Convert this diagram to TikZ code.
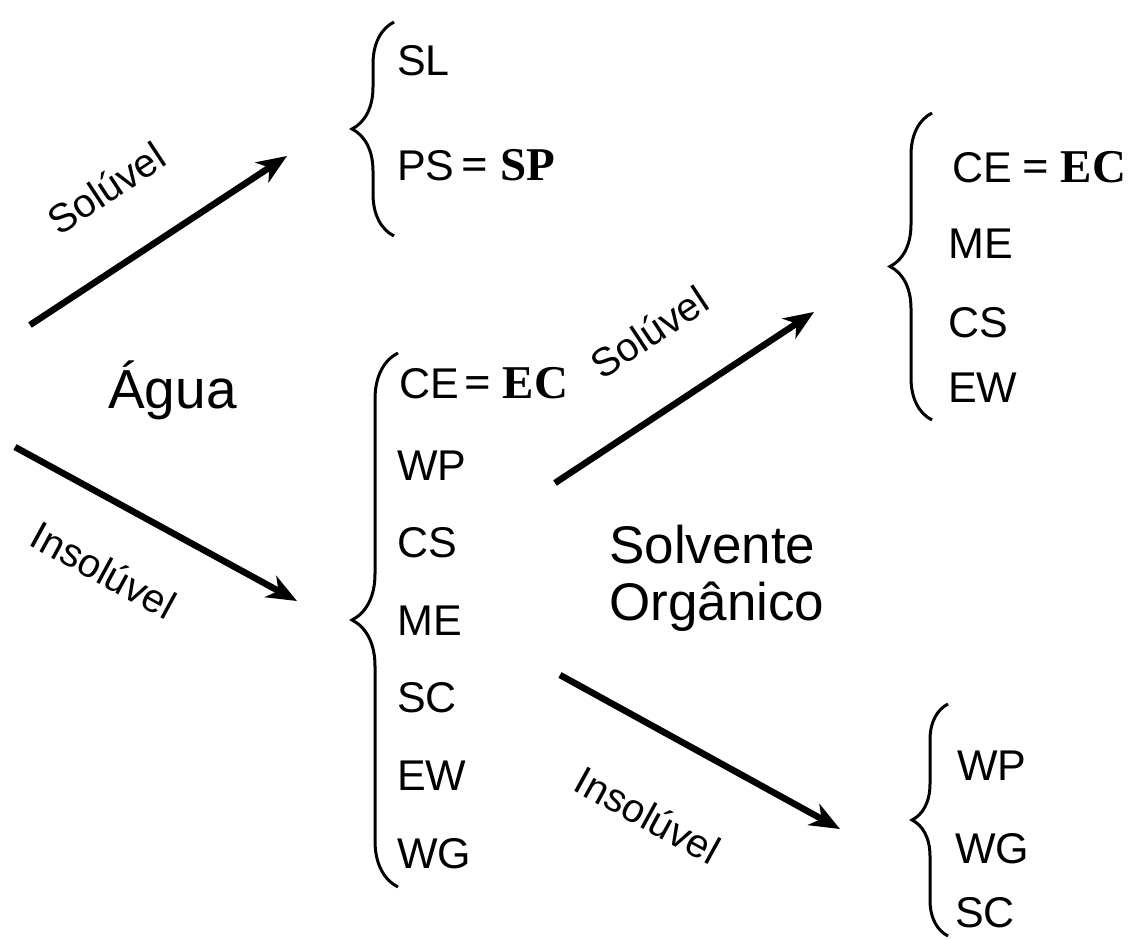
\documentclass[tikz,border=0pt]{standalone}
\usepackage{fontspec}
\setmainfont{Liberation Sans}
\newfontfamily\boldserif{Liberation Serif}
\usetikzlibrary{arrows.meta,decorations.pathreplacing}
\begin{document}
\begin{tikzpicture}[x=1pt,y=-1pt,
  item/.style={anchor=base west,inner sep=0pt,font=\fontsize{43}{43}\selectfont},
  eqtext/.style={anchor=base west,inner sep=0pt,font=\boldserif\bfseries\fontsize{47}{47}\selectfont},
  title/.style={anchor=west,inner sep=0pt,font=\fontsize{53}{53}\selectfont},
  tag/.style={inner sep=0pt,font=\fontsize{40}{40}\selectfont},
  flow/.style={line width=6.5pt,-{Stealth[length=30pt,width=24pt,inset=9pt]}},
  bracket/.style={line width=3pt,decorate,decoration={brace,amplitude=#1}}]
\useasboundingbox (0,0) rectangle (1136,940);

% first split: water
\node[title,font=\fontsize{55}{55}\selectfont] (agua) at (108,390) {Água};
\coordinate (a1s) at (30,325);  \coordinate (a1e) at (287,156);
\coordinate (a2s) at (15,447);  \coordinate (a2e) at (297,601);
\draw[flow] (a1s) -- (a1e);
\draw[flow] (a2s) -- (a2e);
\node[tag,rotate=33.4] (sol1) at (106,188) {Solúvel};
\node[tag,rotate=-28.6] (ins1) at (104,570) {Insolúvel};

% soluble in water
\draw[bracket=42pt] (394,236) -- (394,22);
\node[item] (sl) at (397,75) {SL};
\node[item] (ps) at (397,180) {PS};
\node[eqtext] (eqsp) at ([xshift=7pt]ps.base east) {= SP};

% insoluble in water
\draw[bracket=46pt] (398,887) -- (398,353);
\node[item] (ce1) at (399,398) {CE};
\node[eqtext] (eqec1) at ([xshift=5pt]ce1.base east) {= EC};
\node[item] (wp1) at (397,480) {WP};
\node[item] (cs1) at (397,557) {CS};
\node[item] (me1) at (397,635) {ME};
\node[item] (sc1) at (397,712) {SC};
\node[item] (ew1) at (397,790) {EW};
\node[item] (wg1) at (397,868) {WG};

% second split: organic solvent
\node[title] (solv) at (609,545) {Solvente};
\node[title] (org) at (609,607) {Orgânico};
\coordinate (b1s) at (555,483);  \coordinate (b1e) at (814,312);
\coordinate (b2s) at (560,675);  \coordinate (b2e) at (840,829);
\draw[flow] (b1s) -- (b1e);
\draw[flow] (b2s) -- (b2e);
\node[tag,rotate=33.4] (sol2) at (649,332) {Solúvel};
\node[tag,rotate=-28.8] (ins2) at (648,815) {Insolúvel};

% soluble in organic solvent
\draw[bracket=42pt] (932,420) -- (932,113);
\node[item] (ce2) at (952,182) {CE};
\node[eqtext] (eqec2) at ([xshift=10pt]ce2.base east) {= EC};
\node[item] (me2) at (948,258) {ME};
\node[item] (cs2) at (948,337) {CS};
\node[item] (ew2) at (948,402) {EW};

% insoluble in organic solvent
\draw[bracket=36pt] (948,936) -- (948,704);
\node[item] (wp2) at (957,780) {WP};
\node[item] (wg2) at (955,863) {WG};
\node[item] (sc2) at (955,927) {SC};
\end{tikzpicture}
\end{document}
